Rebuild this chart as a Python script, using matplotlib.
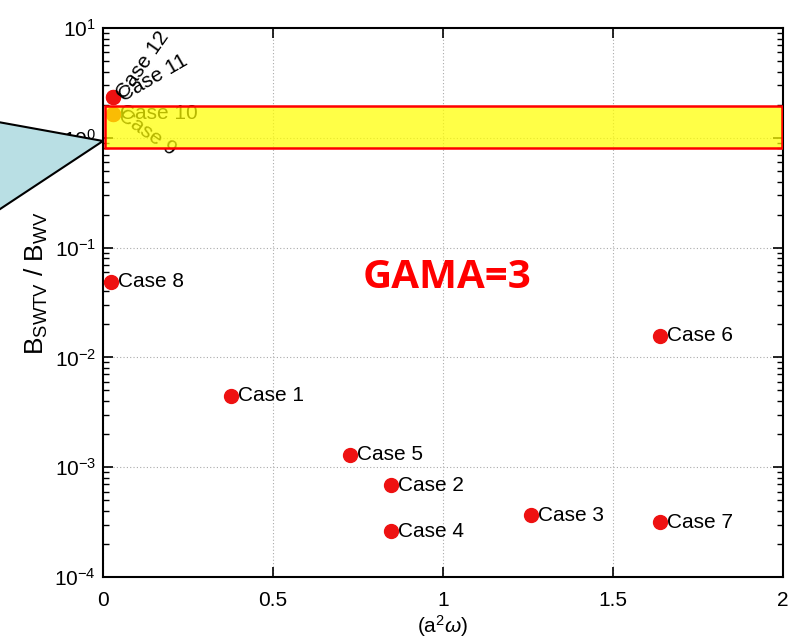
import matplotlib
matplotlib.use("Agg")
import matplotlib.pyplot as plt
from matplotlib.patches import Polygon, Rectangle

plt.rcParams['font.family'] = ['Liberation Sans', 'DejaVu Sans']
plt.rcParams['mathtext.fontset'] = 'custom'
plt.rcParams['mathtext.rm'] = 'Liberation Sans'
plt.rcParams['mathtext.it'] = 'Liberation Sans:italic'
plt.rcParams['axes.unicode_minus'] = False

# Case data: a^2*omega vs B_SWTV / B_WV
cases = ["Case 1", "Case 2", "Case 3", "Case 4", "Case 5", "Case 6",
         "Case 7", "Case 8", "Case 9", "Case 10", "Case 11", "Case 12"]
a2w = [0.376, 0.847, 1.259, 0.847, 0.726, 1.638,
       1.638, 0.024, 0.03, 0.03, 0.03, 0.03]
ratio = [4.5e-3, 6.85e-4, 3.65e-4, 2.6e-4, 1.3e-3, 1.57e-2,
         3.15e-4, 4.9e-2, 1.65, 1.65, 2.35, 2.35]
label_rot = [0, 0, 0, 0, 0, 0, 0, 0, -35, 0, 30, 55]

fig = plt.figure(figsize=(8.02, 6.40), dpi=100)
ax = fig.add_axes([0.1284, 0.0984, 0.8479, 0.8578])

ax.plot(a2w, ratio, 'o', color='#ee1111', markersize=10, zorder=3)
for name, x, y, r in zip(cases, a2w, ratio, label_rot):
    ax.annotate(name, (x, y), xytext=(5, 0), textcoords='offset points',
                ha='left', va='center', rotation=r, rotation_mode='anchor',
                fontsize=15, color='black', zorder=4)

ax.set_yscale('log')
ax.set_xlim(0, 2)
ax.set_ylim(1e-4, 1e1)
ax.set_xticks([0, 0.5, 1, 1.5, 2])
ax.set_xticklabels(['0', '0.5', '1', '1.5', '2'])
ax.tick_params(axis='both', which='both', direction='in', top=True, right=True,
               labelsize=15)
ax.tick_params(axis='x', pad=10)
ax.tick_params(axis='y', pad=5)
ax.tick_params(which='major', length=7, width=1.2)
ax.tick_params(which='minor', length=4, width=1.0)
ax.grid(True, which='major', linestyle=(0, (1, 2)), color='#aaaaaa', linewidth=0.8)
for s in ax.spines.values():
    s.set_linewidth(1.5)

ax.set_xlabel(r'(a$^2\omega$)', fontsize=15)
ax.xaxis.set_label_coords(0.5, -0.066)
ax.set_ylabel(r'B$_{\mathrm{SWTV}}$ / B$_{\mathrm{WV}}$', fontsize=19)
ax.yaxis.set_label_coords(-0.078, 0.535)

ax.text(0.506, 0.545, 'GAMA=3', transform=ax.transAxes, ha='center', va='center',
        fontsize=29, fontweight='bold', color='#ff0000',
        family=['Open Sans', 'DejaVu Sans'])

# Highlight band across the top cases
ax.add_patch(Rectangle((0.003, 0.781), 0.995, 0.077, transform=ax.transAxes,
                       facecolor='#ffff00', alpha=0.72, edgecolor='none', zorder=5))
ax.add_patch(Rectangle((0.003, 0.781), 0.995, 0.077, transform=ax.transAxes,
                       facecolor='none', edgecolor='#ff0000', linewidth=1.8, zorder=6))

# Callout wedge pointing at the band
tri = Polygon([(-0.03, 1 - 118 / 640), (103 / 802, 1 - 141 / 640), (-0.03, 1 - 225 / 640)],
              closed=True, transform=fig.transFigure, facecolor='#b9dfe4',
              edgecolor='black', linewidth=1.5, clip_on=False, zorder=10)
fig.patches.append(tri)

fig.savefig('out.png', dpi=100)
